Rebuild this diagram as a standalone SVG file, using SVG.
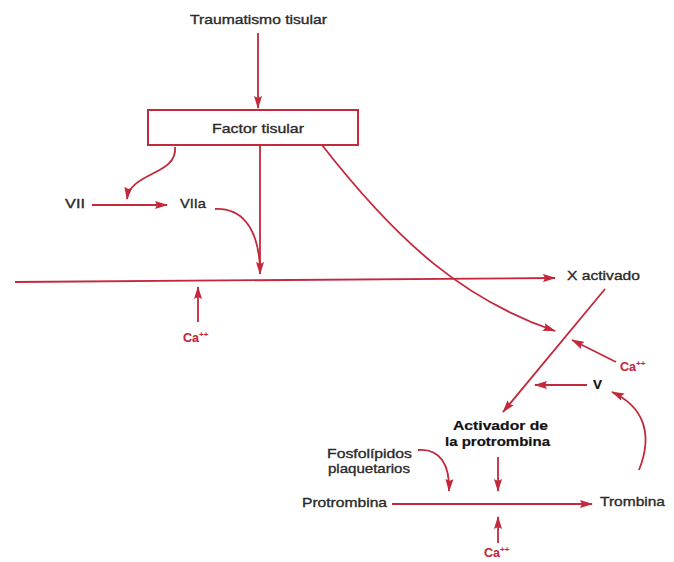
<svg xmlns="http://www.w3.org/2000/svg" width="674" height="562" viewBox="0 0 674 562">
<defs>
<marker id="ah" viewBox="0 0 13 8" refX="12" refY="4" markerWidth="13" markerHeight="8" markerUnits="userSpaceOnUse" orient="auto">
<path d="M0,0 L13,4 L0,8 L2,4 Z" fill="#c3283b"/>
</marker>
<style>
.t{font-family:"Liberation Sans",Arial,sans-serif;font-size:13.5px;fill:#2a2a2a;stroke:#2a2a2a;stroke-width:0.35}
.b{font-weight:bold;stroke-width:0.2;fill:#111;stroke:#111}
.r{fill:#c3283b;stroke:#c3283b;font-weight:bold;font-size:12.5px;stroke-width:0.1}
.s{font-size:8px}
.c{fill:none;stroke:#c3283b;stroke-width:1.8}
.a{marker-end:url(#ah)}
.box{fill:#fff;stroke:#c3283b;stroke-width:2}
</style>
</defs>
<rect width="674" height="562" fill="#fff"/>
<g id="traumatismo"><text class="t" x="190" y="24" textLength="137" lengthAdjust="spacingAndGlyphs">Traumatismo tisular</text></g>
<g id="factor"><rect class="box" x="148" y="110" width="210" height="35"/><text class="t" x="212" y="133" font-size="14" textLength="92" lengthAdjust="spacingAndGlyphs">Factor tisular</text></g>
<g id="vii"><text class="t" x="65" y="208" textLength="20" lengthAdjust="spacingAndGlyphs">VII</text></g>
<g id="viia"><text class="t" x="180" y="208" textLength="26" lengthAdjust="spacingAndGlyphs">VIIa</text></g>
<g id="ca1"><text class="t r" x="183" y="342">Ca<tspan class="s" dy="-5">++</tspan></text></g>
<g id="xact"><text class="t" x="567" y="280" textLength="73" lengthAdjust="spacingAndGlyphs">X activado</text></g>
<g id="ca2"><text class="t r" x="620" y="371">Ca<tspan class="s" dy="-5">++</tspan></text></g>
<g id="v"><text class="t b" x="593" y="389" font-size="14">V</text></g>
<g id="activador"><text class="t b" x="453" y="430" font-size="14" textLength="95" lengthAdjust="spacingAndGlyphs">Activador de</text><text class="t b" x="445" y="446" font-size="14" textLength="105" lengthAdjust="spacingAndGlyphs">la protrombina</text></g>
<g id="fosfo"><text class="t" x="327" y="458" textLength="85" lengthAdjust="spacingAndGlyphs">Fosfolípidos</text><text class="t" x="328" y="473" textLength="82" lengthAdjust="spacingAndGlyphs">plaquetarios</text></g>
<g id="protrombina"><text class="t" x="302" y="507" textLength="85" lengthAdjust="spacingAndGlyphs">Protrombina</text></g>
<g id="trombina"><text class="t" x="600" y="506" textLength="65" lengthAdjust="spacingAndGlyphs">Trombina</text></g>
<g id="ca3"><text class="t r" x="484" y="557">Ca<tspan class="s" dy="-5">++</tspan></text></g>
<g id="connectors">
<path class="c a" d="M258,33 L258,108"/>
<path class="c a" d="M260,146 L260,274"/>
<path class="c a" d="M15,282 L555,278"/>
<path class="c a" d="M175,147 C178,175 130,172 127,199"/>
<path class="c a" d="M92,205 L167,205"/>
<path class="c" d="M215,209 C240,208 258,225 260,268"/>
<path class="c a" d="M198,322 L198,287"/>
<path class="c a" d="M322,145 C400,245 465,300 555,331"/>
<path class="c a" d="M605,289 L503,412"/>
<path class="c a" d="M616,362 L572,340"/>
<path class="c a" d="M587,385 L535,385"/>
<path class="c a" d="M639,470 C655,430 640,405 612,392"/>
<path class="c a" d="M498,457 L498,491"/>
<path class="c a" d="M418,450 C440,448 450,465 449,491"/>
<path class="c a" d="M392,504 L592,504"/>
<path class="c a" d="M498,543 L498,517"/>
</g>
</svg>
